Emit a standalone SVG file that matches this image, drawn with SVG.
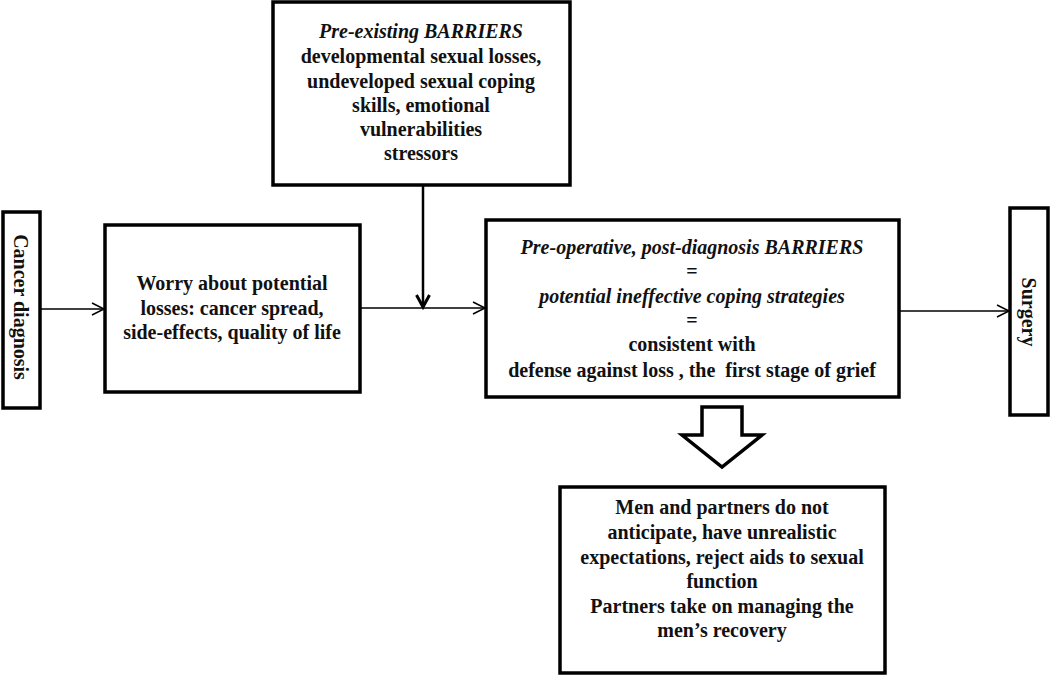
<svg xmlns="http://www.w3.org/2000/svg" width="1050" height="676" viewBox="0 0 1050 676">
<style>
.box{fill:#fff;stroke:#000;stroke-width:3.5}
.t{font-family:"Liberation Serif","Times New Roman",serif;font-weight:bold;font-size:20px;fill:#111;text-anchor:middle}
.i{font-style:italic}
.c{fill:none;stroke:#000;stroke-width:1.3}
.cv{fill:none;stroke:#000;stroke-width:2.5}
</style>
<defs>
<marker id="open" markerUnits="userSpaceOnUse" markerWidth="16" markerHeight="16" refX="13" refY="7" orient="auto" viewBox="0 0 16 14">
<path d="M1,1 L13,7 L1,13" fill="none" stroke="#000" stroke-width="1.5"/>
</marker>
<marker id="openb" markerUnits="userSpaceOnUse" markerWidth="18" markerHeight="18" refX="14" refY="8" orient="auto" viewBox="0 0 18 16">
<path d="M2,1.5 L14,8 L2,14.5" fill="none" stroke="#000" stroke-width="3"/>
</marker>
</defs>
<rect width="1050" height="676" fill="#fff"/>
<g id="connectors">
<line class="c" x1="40" y1="309" x2="104" y2="309" marker-end="url(#open)"/>
<line class="c" x1="360" y1="308" x2="485" y2="308" marker-end="url(#open)"/>
<line class="cv" x1="423" y1="185" x2="423" y2="307" marker-end="url(#openb)"/>
<line class="c" x1="899" y1="311" x2="1009" y2="311" marker-end="url(#open)"/>
<polygon points="702,407 742,407 742,435 762,435 722,467 682,435 702,435" fill="#fff" stroke="#000" stroke-width="3.5" stroke-linejoin="miter"/>
</g>
<g id="cancer">
<rect class="box" x="3" y="212" width="37" height="196"/>
<text class="t" x="0" y="0" font-size="21" dominant-baseline="central" transform="translate(21,307) rotate(90)">Cancer diagnosis</text>
</g>
<g id="worry">
<rect class="box" x="105" y="225" width="255" height="167"/>
<text class="t" x="232" y="290">Worry about potential</text>
<text class="t" x="232" y="315">losses: cancer spread,</text>
<text class="t" x="232" y="339">side-effects, quality of life</text>
</g>
<g id="preexisting">
<rect class="box" x="273" y="2" width="297" height="183"/>
<text class="t i" x="421" y="38">Pre-existing BARRIERS</text>
<text class="t" x="421" y="63">developmental sexual losses,</text>
<text class="t" x="421" y="88">undeveloped sexual coping</text>
<text class="t" x="421" y="112">skills, emotional</text>
<text class="t" x="421" y="136">vulnerabilities</text>
<text class="t" x="421" y="160">stressors</text>
</g>
<g id="preoperative">
<rect class="box" x="486" y="220" width="413" height="177"/>
<text class="t i" x="692" y="254">Pre-operative, post-diagnosis BARRIERS</text>
<text class="t" x="692" y="278">=</text>
<text class="t i" x="692" y="303">potential ineffective  coping strategies</text>
<text class="t" x="692" y="327">=</text>
<text class="t" x="692" y="351">consistent with</text>
<text class="t" x="692" y="377" xml:space="preserve">defense against loss , the  first stage of grief</text>
</g>
<g id="surgery">
<rect class="box" x="1010" y="208" width="38" height="207"/>
<text class="t" x="0" y="0" font-size="21" dominant-baseline="central" transform="translate(1029,312) rotate(90)">Surgery</text>
</g>
<g id="outcome">
<rect class="box" x="560" y="487" width="325" height="186"/>
<text class="t" x="722" y="514">Men and partners do not</text>
<text class="t" x="722" y="539">anticipate, have unrealistic</text>
<text class="t" x="722" y="564">expectations, reject aids to sexual</text>
<text class="t" x="722" y="588">function</text>
<text class="t" x="722" y="613">Partners take on managing the</text>
<text class="t" x="722" y="637">men’s recovery</text>
</g>
</svg>
